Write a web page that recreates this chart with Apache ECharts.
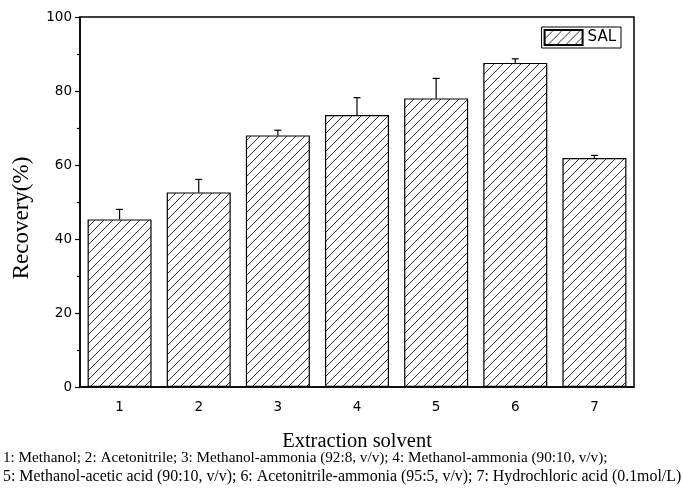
<!DOCTYPE html>
<html>
<head>
<meta charset="utf-8">
<script src="https://cdn.jsdelivr.net/npm/echarts@6/dist/echarts.min.js"></script>
<style>
  html, body { margin: 0; padding: 0; background: #fff; }
  #chart { width: 683px; height: 488px; }
</style>
</head>
<body>
<div id="chart"></div>
<script>
// Recovery of SAL with each extraction solvent (mean and error bar)
const categories = ['1', '2', '3', '4', '5', '6', '7'];
const recovery = [45.3, 52.6, 68.0, 73.5, 78.0, 87.6, 61.9];
const errors = [2.7, 3.5, 1.4, 4.7, 5.4, 1.1, 0.7];
const yTicks = [0, 20, 40, 60, 80, 100];
const seriesName = 'SAL';
const captionLines = [
  '1: Methanol; 2: Acetonitrile; 3: Methanol-ammonia (92:8, v/v); 4: Methanol-ammonia (90:10, v/v);',
  '5: Methanol-acetic acid (90:10, v/v); 6: Acetonitrile-ammonia (95:5, v/v); 7: Hydrochloric acid (0.1mol/L)'
];
const captionSizes = [15.2, 15.9];

// Diagonal hatch fill
function makeHatch() {
  const s = 9;
  const c = document.createElement('canvas');
  c.width = s; c.height = s;
  const ctx = c.getContext('2d');
  ctx.fillStyle = '#fff';
  ctx.fillRect(0, 0, s, s);
  ctx.strokeStyle = '#333';
  ctx.lineWidth = 1;
  ctx.beginPath();
  ctx.moveTo(-1, s + 1); ctx.lineTo(s + 1, -1);
  ctx.moveTo(-1, 1); ctx.lineTo(1, -1);
  ctx.moveTo(s - 1, s + 1); ctx.lineTo(s + 1, s - 1);
  ctx.stroke();
  return c;
}
const hatch = { image: makeHatch(), repeat: 'repeat' };

const chart = echarts.init(document.getElementById('chart'));
const sans = 'DejaVu Sans, Liberation Sans, Arial, sans-serif';
const serif = 'Liberation Serif, Times New Roman, serif';

chart.setOption({
  animation: false,
  grid: { left: 80, right: 49, top: 17, bottom: 101, show: true, borderColor: '#000', borderWidth: 1.5 },
  legend: {
    data: [seriesName],
    right: 62, top: 27,
    orient: 'vertical',
    itemWidth: 38, itemHeight: 15,
    itemGap: 4,
    padding: [2, 5, 2, 2],
    borderColor: '#000', borderWidth: 1,
    textStyle: { fontFamily: sans, fontSize: 15, color: '#000' },
    icon: 'rect'
  },
  xAxis: [
    {
      type: 'category',
      data: categories,
      position: 'bottom',
      axisLine: { lineStyle: { color: '#000', width: 1.5 } },
      axisTick: { alignWithLabel: true, length: 6, lineStyle: { color: '#000', width: 1.2 } },
      axisLabel: { color: '#000', fontFamily: sans, fontSize: 13.5, margin: 13 },
      name: 'Extraction solvent',
      nameLocation: 'middle',
      nameGap: 44,
      nameTextStyle: { fontFamily: serif, fontSize: 20.5, color: '#000' }
    },
    {
      type: 'category',
      data: categories,
      position: 'bottom',
      axisLine: { show: false },
      axisTick: { length: 4, lineStyle: { color: '#000', width: 1.2 } },
      axisLabel: { show: false }
    }
  ],
  yAxis: {
    type: 'value',
    min: yTicks[0], max: yTicks[yTicks.length - 1], interval: 20,
    axisLine: { show: true, lineStyle: { color: '#000', width: 1.5 } },
    axisTick: { show: true, length: 5, lineStyle: { color: '#000', width: 1.2 } },
    minorTick: { show: true, splitNumber: 2, length: 3, lineStyle: { color: '#000', width: 1.2 } },
    splitLine: { show: false },
    axisLabel: { color: '#000', fontFamily: sans, fontSize: 13.5, margin: 8 }
  },
  series: [
    {
      name: seriesName,
      type: 'bar',
      data: recovery,
      barWidth: 64,
      itemStyle: { color: hatch, borderColor: '#000', borderWidth: 1.2 },
      z: 2
    },
    {
      name: 'error',
      type: 'custom',
      data: recovery.map((v, i) => [i, v, v + errors[i]]),
      renderItem: function (params, api) {
        const base = api.coord([api.value(0), api.value(1)]);
        const top = api.coord([api.value(0), api.value(2)]);
        const hw = 3.5;
        return {
          type: 'group',
          children: [
            { type: 'line', shape: { x1: base[0], y1: base[1], x2: top[0], y2: top[1] }, style: { stroke: '#000', lineWidth: 1.2 } },
            { type: 'line', shape: { x1: top[0] - hw, y1: top[1], x2: top[0] + hw, y2: top[1] }, style: { stroke: '#000', lineWidth: 1.2 } }
          ]
        };
      },
      z: 3
    }
  ],
  graphic: [
    {
      type: 'text',
      x: 22, y: 218,
      rotation: Math.PI / 2,
      style: { text: 'Recovery(%)', fontFamily: serif, fontSize: 23, fill: '#000', align: 'center', verticalAlign: 'middle' }
    }
  ].concat(captionLines.map((t, i) => ({
    type: 'text',
    left: 3,
    top: 451 + i * 18,
    style: { text: t, fontFamily: serif, fontSize: captionSizes[i], fill: '#000' }
  })))
});
</script>
</body>
</html>
